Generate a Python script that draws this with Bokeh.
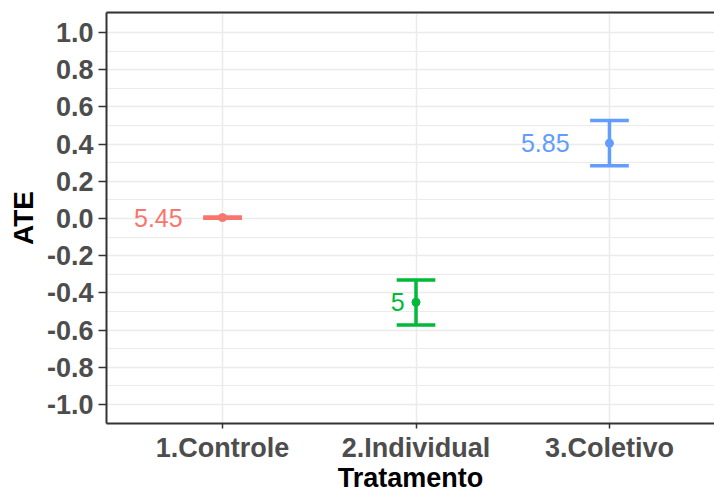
from bokeh.plotting import figure
from bokeh.models import (ColumnDataSource, FixedTicker, NumeralTickFormatter,
                          Range1d, LinearAxis)
from bokeh.embed import file_html
from bokeh.resources import INLINE
from bokeh.core.properties import value

# ---- data ----
categories = ["1.Controle", "2.Individual", "3.Coletivo"]
ate = [0.005, -0.45, 0.405]
ci_lower = [0.002, -0.572, 0.283]
ci_upper = [0.008, -0.330, 0.527]
labels = ["5.45", "5", "5.85"]
colors = ["#F8766D", "#00BA38", "#619CFF"]
y_ticks = [-1.0, -0.8, -0.6, -0.4, -0.2, 0.0, 0.2, 0.4, 0.6, 0.8, 1.0]
x_title = "Tratamento"
y_title = "ATE"

FONT = "Liberation Sans"
LABEL_PX = 25
whisker_half = 0.1

def text_width(s, px):
    w = 0.0
    for ch in s:
        w += 0.278 if ch == "." else 0.556
    return w * px

xs = [i + 1 for i in range(len(categories))]
src = ColumnDataSource(dict(
    x=xs, ate=ate, lo=ci_lower, hi=ci_upper, color=colors, label=labels,
    x0=[x - whisker_half for x in xs], x1=[x + whisker_half for x in xs],
    xoff=[-1.32 * text_width(s, LABEL_PX) for s in labels],
))

p = figure(width=714, height=496, output_backend="svg", toolbar_location=None,
           x_range=Range1d(0.4, 3.543), y_range=Range1d(-1.102, 1.1075),
           min_border_left=106, min_border_right=0, min_border_top=12, min_border_bottom=73)
p.outline_line_color = None
p.background_fill_color = "white"

# grids
p.xgrid.ticker = FixedTicker(ticks=xs)
p.xgrid.grid_line_color = "#EBEBEB"
p.xgrid.grid_line_width = 1.5
p.yaxis.ticker = FixedTicker(ticks=y_ticks, minor_ticks=[t + 0.1 for t in y_ticks] + [-1.1])
p.ygrid.ticker = p.yaxis.ticker
p.ygrid.grid_line_color = "#EBEBEB"
p.ygrid.grid_line_width = 1.5
p.ygrid.minor_grid_line_color = "#EBEBEB"
p.ygrid.minor_grid_line_width = 1.2

# axes
p.xaxis.ticker = FixedTicker(ticks=xs)
p.xaxis.major_label_overrides = {x: c for x, c in zip(xs, categories)}
p.yaxis.formatter = NumeralTickFormatter(format="0.0")
for ax in (p.xaxis[0], p.yaxis[0]):
    ax.axis_line_color = "#333333"
    ax.axis_line_width = 2
    ax.major_tick_line_color = "#333333"
    ax.major_tick_line_width = 1.5
    ax.major_tick_in = 0
    ax.minor_tick_line_color = None
    ax.major_label_text_font = FONT
    ax.major_label_text_font_style = "bold"
    ax.major_label_text_font_size = "27px"
    ax.major_label_text_color = "#4D4D4D"
    ax.axis_label_text_font = FONT
    ax.axis_label_text_font_style = "bold"
    ax.axis_label_text_font_size = "28px"
    ax.axis_label_text_color = "black"
p.xaxis.axis_label = x_title
p.yaxis.axis_label = y_title
p.xaxis.axis_label_text_font_size = "27px"
p.xaxis.major_label_text_line_height = 0.9
p.xaxis.axis_label_text_line_height = 0.6
p.xaxis.major_tick_out = 5
p.yaxis.major_tick_out = 8
p.xaxis.major_label_standoff = 4
p.yaxis.major_label_standoff = 5
p.xaxis.axis_label_standoff = -3
p.yaxis.axis_label_standoff = 5

top = LinearAxis(ticker=FixedTicker(ticks=[]), axis_line_color="#333333", axis_line_width=2,
                 major_label_text_font_size="0px", major_tick_line_color=None,
                 minor_tick_line_color=None)
p.add_layout(top, "above")

# error bars
p.segment(x0="x", y0="lo", x1="x", y1="hi", color="color", line_width=3.5, source=src)
p.segment(x0="x0", y0="lo", x1="x1", y1="lo", color="color", line_width=3.5, source=src)
p.segment(x0="x0", y0="hi", x1="x1", y1="hi", color="color", line_width=3.5, source=src)
p.scatter(x="x", y="ate", color="color", size=8, source=src)
p.text(x="x", y="ate", text="label", text_color="color", text_align="center",
       text_baseline="middle", x_offset="xoff", text_font=value(FONT),
       text_font_size=f"{LABEL_PX}px", source=src)

open("out.html", "w").write(file_html(p, INLINE))
